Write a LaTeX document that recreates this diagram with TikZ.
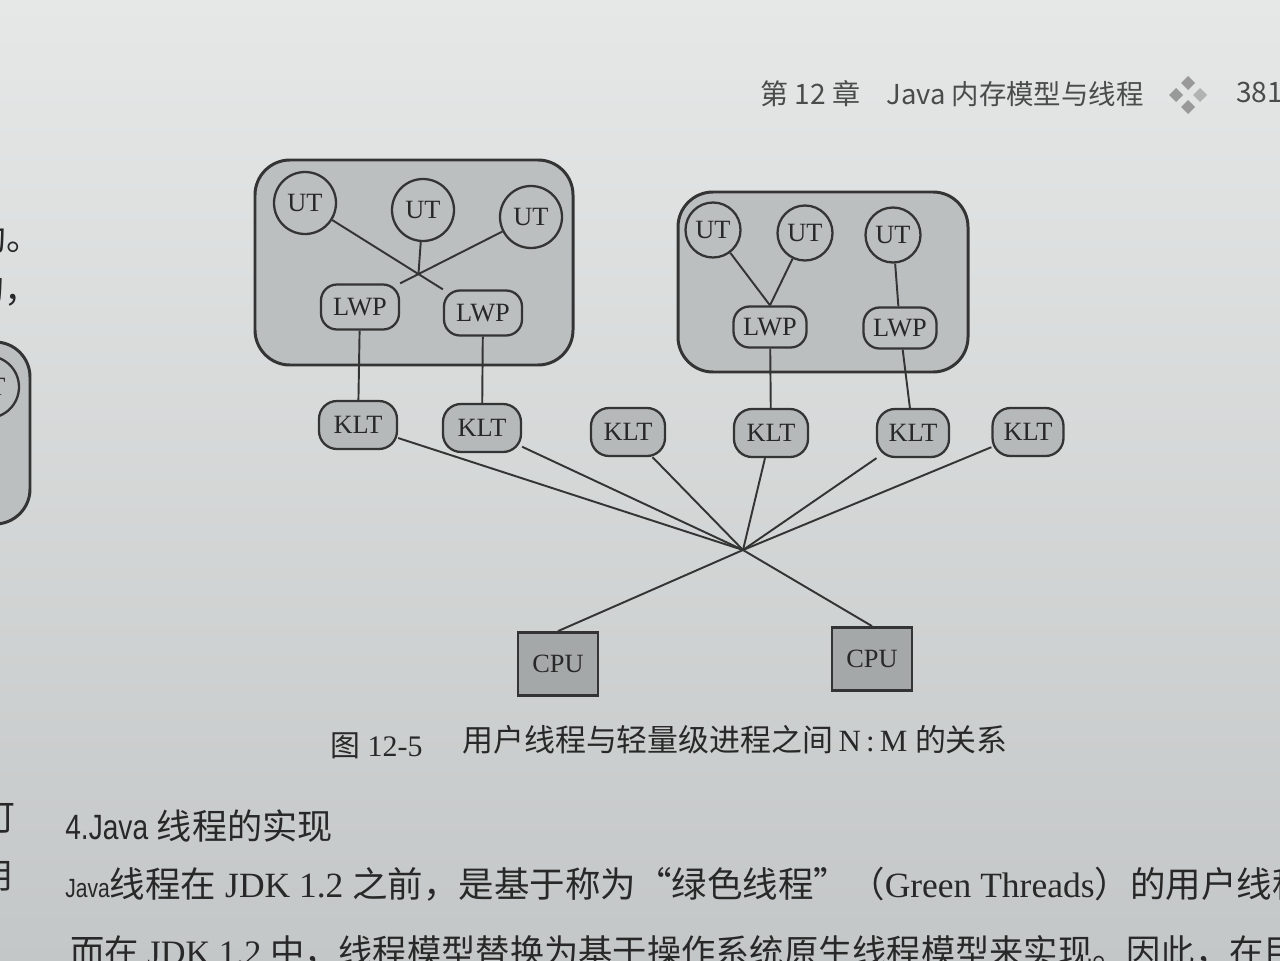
\documentclass[tikz,border=0pt]{standalone}
\usepackage{fontspec}
\setmainfont{Liberation Serif}
\newfontfamily\cjk{Noto Sans CJK SC}
\newfontfamily\narrowsans[FakeStretch=0.8]{Liberation Sans}
\definecolor{papertop}{RGB}{230,232,232}
\definecolor{paperbot}{RGB}{196,199,199}
\definecolor{boxc}{RGB}{188,191,191}
\definecolor{kltc}{RGB}{182,185,185}
\definecolor{cpuc}{RGB}{165,168,168}
\definecolor{linec}{RGB}{52,52,52}
\definecolor{inkc}{RGB}{40,40,40}
\definecolor{headc}{RGB}{75,75,75}
\begin{document}
\begin{tikzpicture}[x=0.02cm,y=-0.02cm,
  lbl/.style={font=\fontsize{15}{18}\selectfont, text=inkc, inner sep=0pt},
  grp/.style={draw=linec, fill=boxc, line width=1.7pt, rounded corners=0.7cm},
  ut/.style={lbl, draw=linec, circle, fill=boxc, line width=1.3pt, minimum size=1.24cm},
  lwp/.style={lbl, draw=linec, rounded corners=0.32cm, fill=boxc, line width=1.3pt, minimum width=1.56cm, minimum height=0.9cm},
  klt/.style={lbl, draw=linec, rounded corners=0.36cm, fill=kltc, line width=1.3pt, minimum width=1.56cm, minimum height=0.96cm},
  cpu/.style={lbl, draw=linec, fill=cpuc, line width=1.6pt, minimum width=1.6cm, minimum height=1.26cm},
  wire/.style={draw=linec, line width=1.1pt},
  txt/.style={text=inkc, inner sep=0pt}]
\useasboundingbox (0,0) rectangle (1280,960);
\clip (0,0) rectangle (1280,960);
\shade[top color=papertop, bottom color=paperbot] (0,0) rectangle (1280,960);

% previous page, left edge
\draw[grp] (-80,342) rectangle (30,524);
\node[ut] (p1) at (-12,387) {UT};
\node[txt, anchor=east, font=\cjk\fontsize{20}{24}\selectfont] (p2) at (42,237) {助。};
\node[txt, anchor=east, font=\cjk\fontsize{20}{24}\selectfont] (p3) at (40,290) {的，};
\node[txt, anchor=east, font=\cjk\fontsize{20}{24}\selectfont] (p4) at (16,818) {可};
\node[txt, anchor=east, font=\cjk\fontsize{20}{24}\selectfont] (p5) at (14,876) {用};
\node[txt, anchor=east, font=\cjk\fontsize{20}{24}\selectfont] (p6) at (18,935) {）};

% running head
\node[txt, text=headc, anchor=west, font=\cjk\fontsize{16}{19}\selectfont] (h1) at (760,94) {第 12 章};
\node[txt, text=headc, anchor=west, font=\cjk\fontsize{15.6}{19}\selectfont] (h2) at (886,94) {Java 内存模型与线程};
\node[txt, text=headc, anchor=west, font=\cjk\fontsize{16}{19}\selectfont] (h3) at (1236,92) {381};
\fill[gray!80] (1188,76) -- (1195,83) -- (1188,90) -- (1181,83) -- cycle;
\fill[gray!80] (1176,88) -- (1183,95) -- (1176,102) -- (1169,95) -- cycle;
\fill[gray!60] (1200,88) -- (1207,95) -- (1200,102) -- (1193,95) -- cycle;
\fill[gray!80] (1188,100) -- (1195,107) -- (1188,114) -- (1181,107) -- cycle;

% process boxes
\draw[grp] (255,160) rectangle (573,365);
\draw[grp] (678,192) rectangle (968,372);

\node[ut] (u1) at (305,203) {UT};
\node[ut] (u2) at (423,210) {UT};
\node[ut] (u3) at (531,217) {UT};
\node[ut, minimum size=1.1cm] (u4) at (713,230) {UT};
\node[ut, minimum size=1.1cm] (u5) at (805,233) {UT};
\node[ut, minimum size=1.1cm] (u6) at (893,235) {UT};

\node[lwp] (l1) at (360,307) {LWP};
\node[lwp] (l2) at (483,313) {LWP};
\node[lwp, minimum width=1.46cm, minimum height=0.82cm] (l3) at (770,327) {LWP};
\node[lwp, minimum width=1.46cm, minimum height=0.82cm] (l4) at (900,328) {LWP};

\node[klt] (k1) at (358,425) {KLT};
\node[klt] (k2) at (482,428) {KLT};
\node[klt, minimum width=1.48cm] (k3) at (628,432) {KLT};
\node[klt, minimum width=1.48cm] (k4) at (771,433) {KLT};
\node[klt, minimum width=1.44cm] (k5) at (913,433) {KLT};
\node[klt, minimum width=1.42cm] (k6) at (1028,432) {KLT};

\node[cpu] (c1) at (558,664) {CPU};
\node[cpu] (c2) at (872,659) {CPU};

\coordinate (xl) at (intersection of u1--l2.north west and u3--l1.north east);
\coordinate (hub) at (743,550);

\path[wire] (u1) -- (l2.north west);
\path[wire] (u3) -- (l1.north east);
\path[wire] (u2) -- (xl);
\path[wire] (u4) -- (l3.north);
\path[wire] (u5) -- (l3.north);
\path[wire] (u6) -- (l4);
\path[wire] (l1) -- (k1);
\path[wire] (l2) -- (k2);
\path[wire] (l3) -- (k4);
\path[wire] (l4) -- (k5);
\path[wire] (k1) -- (hub);
\path[wire] (k2) -- (hub);
\path[wire] (k3) -- (hub);
\path[wire] (k4) -- (hub);
\path[wire] (k5) -- (hub);
\path[wire] (k6) -- (hub);
\path[wire] (hub) -- (c1.north);
\path[wire] (hub) -- (c2.north);

% caption
\node[txt, anchor=west, font=\fontsize{17}{20}\selectfont] (f1) at (330,746) {{\cjk 图} 12-5};
\node[txt, anchor=west, font=\fontsize{17.6}{20}\selectfont] (f2) at (462,740) {{\cjk 用户线程与轻量级进程之间}\,N\,:\,M {\cjk 的关系}};

% body text
\node[txt, anchor=west, font=\fontsize{20}{24}\selectfont] (b1) at (65,826) {{\narrowsans 4.Java} {\cjk 线程的实现}};
\node[txt, anchor=west, font=\fontsize{20.2}{24}\selectfont] (b2) at (65,884) {{\narrowsans\fontsize{15}{18}\selectfont Java}{\cjk 线程在} JDK 1.2 {\cjk 之前，是基于称为“绿色线程”（}Green Threads{\cjk ）的用户线程}};
\node[txt, anchor=west, font=\fontsize{19.5}{24}\selectfont] (b3) at (70,952) {{\cjk 而在} JDK 1.2 {\cjk 中，线程模型替换为基于操作系统原生线程模型来实现。因此，在目}};
\end{tikzpicture}
\end{document}
